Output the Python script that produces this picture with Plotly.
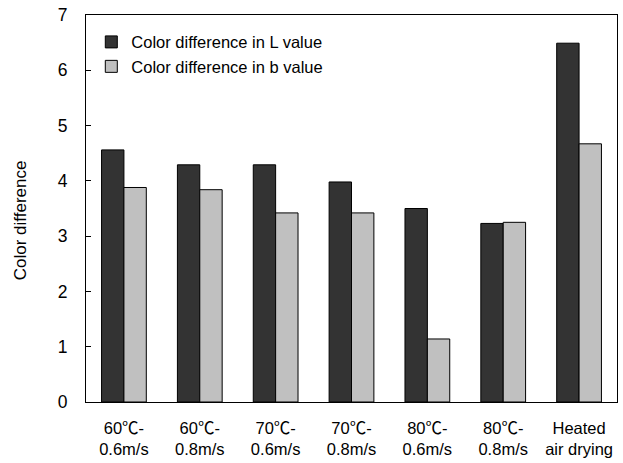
import plotly.graph_objects as go

DEG = '<span style="font-family:Noto Sans CJK SC">℃</span>'
categories = [f"60{DEG}-<br>0.6m/s", f"60{DEG}-<br>0.8m/s", f"70{DEG}-<br>0.6m/s", f"70{DEG}-<br>0.8m/s",
              f"80{DEG}-<br>0.6m/s", f"80{DEG}-<br>0.8m/s", "Heated<br>air drying"]
l_values = [4.56, 4.29, 4.29, 3.98, 3.50, 3.23, 6.49]
b_values = [3.88, 3.84, 3.42, 3.42, 1.14, 3.25, 4.67]
series_names = ["Color difference in L value", "Color difference in b value"]
y_ticks = [0, 1, 2, 3, 4, 5, 6, 7]

FONT = "Liberation Sans, Arial, sans-serif"

fig = go.Figure()
fig.add_trace(go.Bar(x=categories, y=l_values, name=series_names[0], legendgroup="a",
                     marker=dict(color="#333333", line=dict(color="#000000", width=1))))
fig.add_trace(go.Bar(x=categories, y=b_values, name=series_names[1], legendgroup="b",
                     marker=dict(color="#c0c0c0", line=dict(color="#000000", width=1))))

fig.update_layout(
    width=623, height=463,
    margin=dict(l=86, r=5, t=15, b=58),
    paper_bgcolor="white", plot_bgcolor="white",
    font=dict(family=FONT, size=17, color="#000000"),
    barmode="group", bargap=0.41, bargroupgap=0,
    showlegend=True,
    legend=dict(x=0.01, y=0.975, xanchor="left", yanchor="top",
                bgcolor="rgba(0,0,0,0)", font=dict(size=16.5, family=FONT),
                tracegroupgap=0, itemwidth=30),
    xaxis=dict(showline=True, linecolor="#000000", linewidth=1, mirror=True,
               ticks="", showgrid=False, tickfont=dict(size=16.5, family=FONT),
               ticklabelstandoff=11),
    yaxis=dict(range=[0, 7], tickvals=y_ticks, showline=True, linecolor="#000000",
               linewidth=1, mirror=True, ticks="inside", ticklen=5, tickcolor="#000000",
               showgrid=False, zeroline=False, tickfont=dict(size=17.5, family=FONT),
               ticklabelstandoff=14),
    annotations=[dict(text="Color difference", textangle=-90, xref="paper", yref="paper",
                      x=(20 - 86) / 532, y=0.47, xanchor="center", yanchor="middle",
                      showarrow=False, font=dict(size=17, family=FONT))],
)

fig.write_html("out.html", config={"displayModeBar": False},
               post_script="document.body.style.margin='0';")
